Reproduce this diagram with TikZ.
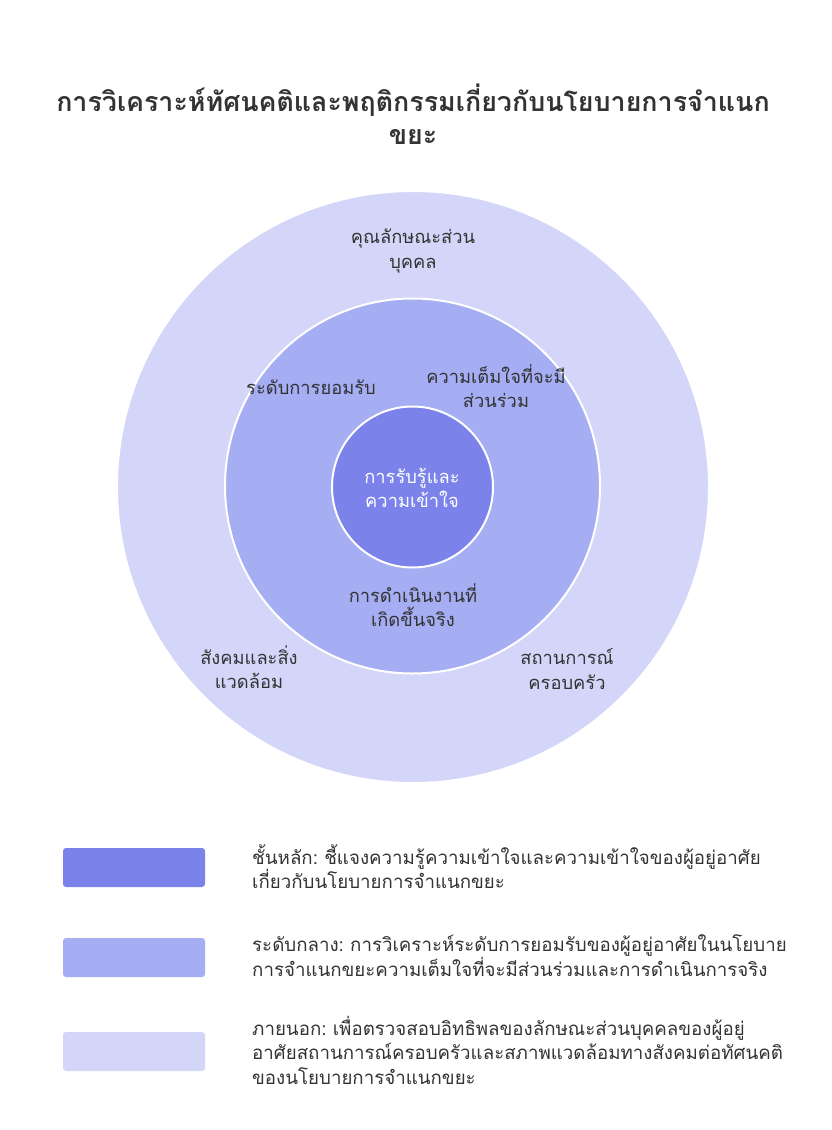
\documentclass[tikz,border=0pt]{standalone}
\usepackage{fontspec}
\setmainfont[Script=Thai]{Loma}
\frenchspacing
\definecolor{cin}{RGB}{123,131,235}
\definecolor{cmid}{RGB}{165,173,243}
\definecolor{cout}{RGB}{211,214,248}
\definecolor{txt}{RGB}{51,51,51}
\tikzset{
  ring/.style={circle, draw=white, line width=2pt, inner sep=0pt},
  lbl/.style={align=center, text=txt, font=\fontsize{18.3}{24.5}\selectfont, inner sep=0pt},
  key/.style={rounded corners=3pt, minimum width=142pt, minimum height=39pt, inner sep=0pt},
  keytext/.style={align=left, anchor=west, text=txt, font=\fontsize{18.7}{24.5}\selectfont, inner sep=0pt},
}
\begin{document}
\begin{tikzpicture}[x=1pt,y=-1pt]
\useasboundingbox[fill=white] (0,0) rectangle (832,1130);
\node[align=center, text=txt, font=\bfseries\fontsize{26.8}{33}\selectfont, inner sep=0pt] (title) at (413,114) {การวิเคราะห์ทัศนคติและพฤติกรรมเกี่ยวกับนโยบายการจำแนก\\ขยะ};
\node[ring, fill=cout, minimum size=592pt] (outer) at (413,487) {};
\node[ring, fill=cmid, minimum size=375pt] (mid) at (412.5,486) {};
\node[ring, fill=cin, minimum size=161pt] (inner) at (412.5,487) {};
\node[lbl] (l1) at (413,251) {คุณลักษณะส่วน\\บุคคล};
\node[lbl] (l2) at (311,387) {ระดับการยอมรับ};
\node[lbl] (l3) at (496,386) {ความเต็มใจที่จะมี\\ส่วนร่วม};
\node[lbl, text=white] (l4) at (412,488) {การรับรู้และ\\ความเข้าใจ};
\node[lbl] (l5) at (413,605) {การดำเนินงานที่\\เกิดขึ้นจริง};
\node[lbl] (l6) at (249,667) {สังคมและสิ่ง\\แวดล้อม};
\node[lbl] (l7) at (567,669) {สถานการณ์\\ครอบครัว};
\node[key, fill=cin] (k1) at (134,867.5) {};
\node[key, fill=cmid] (k2) at (134,957.5) {};
\node[key, fill=cout] (k3) at (134,1051.5) {};
\node[keytext] (t1) at (252,866.5) {ชั้นหลัก: ชี้แจงความรู้ความเข้าใจและความเข้าใจของผู้อยู่อาศัย\\เกี่ยวกับนโยบายการจำแนกขยะ};
\node[keytext] (t2) at (252,955.5) {ระดับกลาง: การวิเคราะห์ระดับการยอมรับของผู้อยู่อาศัยในนโยบาย\\การจำแนกขยะความเต็มใจที่จะมีส่วนร่วมและการดำเนินการจริง};
\node[keytext] (t3) at (252,1050) {ภายนอก: เพื่อตรวจสอบอิทธิพลของลักษณะส่วนบุคคลของผู้อยู่\\อาศัยสถานการณ์ครอบครัวและสภาพแวดล้อมทางสังคมต่อทัศนคติ\\ของนโยบายการจำแนกขยะ};
\end{tikzpicture}
\end{document}
